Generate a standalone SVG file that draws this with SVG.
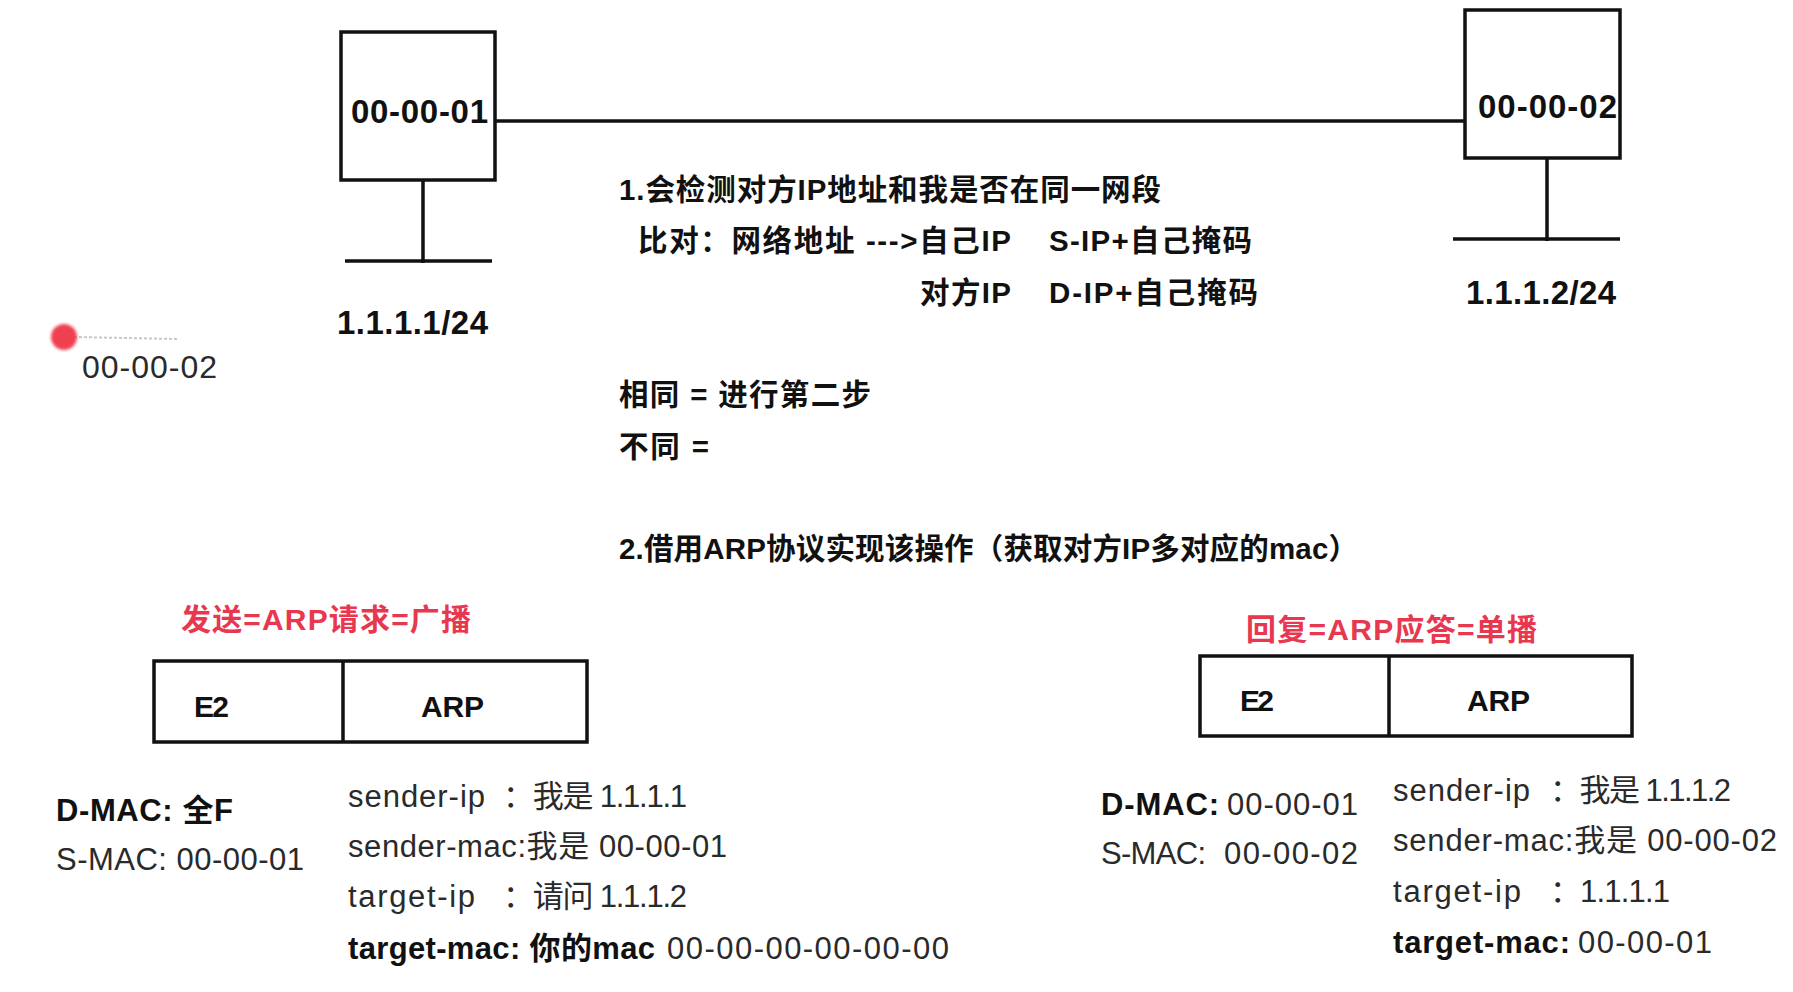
<svg xmlns="http://www.w3.org/2000/svg" width="1793" height="992" viewBox="0 0 1793 992">
<defs>
<style>
text{font-family:"Liberation Sans","Noto Sans CJK SC",sans-serif;}
.b{font-weight:bold;fill:#111;}
.r{font-weight:normal;fill:#2a2a2a;}
.red{font-weight:bold;fill:#e8384f;}
.ln{stroke:#111;stroke-width:3.5;fill:none;}
.box{stroke:#111;stroke-width:3.5;fill:#fff;}
.t{font-size:33px;}
.n{font-size:29.5px;}
.s{font-size:31px;}
</style>
<filter id="blur" x="-50%" y="-50%" width="200%" height="200%"><feGaussianBlur stdDeviation="1.5"/></filter>
</defs>
<rect x="0" y="0" width="1793" height="992" fill="#fff"/>

<g id="connectors">
<line class="ln" x1="495" y1="121" x2="1465" y2="121"/>
<line class="ln" x1="423" y1="180" x2="423" y2="263"/>
<line class="ln" x1="345" y1="261" x2="492" y2="261"/>
<line class="ln" x1="1547" y1="158" x2="1547" y2="241"/>
<line class="ln" x1="1453" y1="239" x2="1620" y2="239"/>
</g>

<g id="host1">
<rect class="box" x="341" y="32" width="154" height="148"/>
<text class="b t" x="351" y="123" textLength="137">00-00-01</text>
<text class="b t" x="337" y="334" textLength="151">1.1.1.1/24</text>
</g>

<g id="host2">
<rect class="box" x="1465" y="10" width="155" height="148"/>
<text class="b t" x="1478" y="118" textLength="139">00-00-02</text>
<text class="b t" x="1466" y="304" textLength="150">1.1.1.2/24</text>
</g>

<g id="pointer">
<line x1="74" y1="337" x2="178" y2="339" stroke="#c8c8c8" stroke-width="2" stroke-dasharray="3 2"/>
<circle cx="64" cy="337" r="13" fill="#f0404f" filter="url(#blur)"/>
<text class="r" x="82" y="378" font-size="32" textLength="135">00-00-02</text>
</g>

<g id="notes">
<text class="b n" x="619" y="200" textLength="542">1.会检测对方IP地址和我是否在同一网段</text>
<text class="b n" x="638" y="251" textLength="373">比对：网络地址 ---&gt;自己IP</text>
<text class="b n" x="1049" y="251" textLength="203">S-IP+自己掩码</text>
<text class="b n" x="920" y="303" textLength="91">对方IP</text>
<text class="b n" x="1049" y="303" textLength="209">D-IP+自己掩码</text>
<text class="b n" x="619" y="405" textLength="252">相同 = 进行第二步</text>
<text class="b n" x="619" y="457" textLength="90">不同 =</text>
<text class="b n" x="619" y="559" textLength="739">2.借用ARP协议实现该操作（获取对方IP多对应的mac）</text>
</g>

<g id="request">
<text class="red" x="181" y="630" font-size="30" textLength="290">发送=ARP请求=广播</text>
<rect class="box" x="154" y="661" width="433" height="81"/>
<line class="ln" x1="343" y1="661" x2="343" y2="742"/>
<text class="b" x="194" y="717" font-size="30" textLength="35">E2</text>
<text class="b" x="421" y="717" font-size="30" textLength="63">ARP</text>
<text class="b s" x="56" y="821" textLength="177">D-MAC: 全F</text>
<text class="r s" x="56" y="870" textLength="248">S-MAC: 00-00-01</text>
<text class="r s" x="348" y="807" textLength="137">sender-ip</text>
<text class="r s" x="503" y="807" textLength="184">：我是 1.1.1.1</text>
<text class="r s" x="348" y="857" textLength="379">sender-mac:我是 00-00-01</text>
<text class="r s" x="348" y="907" textLength="127">target-ip</text>
<text class="r s" x="503" y="907" textLength="184">：请问 1.1.1.2</text>
<text class="b s" x="348" y="959" textLength="307">target-mac: 你的mac</text>
<text class="r s" x="667" y="959" textLength="282">00-00-00-00-00-00</text>
</g>

<g id="reply">
<text class="red" x="1246" y="640" font-size="30" textLength="291">回复=ARP应答=单播</text>
<rect class="box" x="1200" y="656" width="432" height="80"/>
<line class="ln" x1="1389" y1="656" x2="1389" y2="736"/>
<text class="b" x="1240" y="711" font-size="30" textLength="34">E2</text>
<text class="b" x="1467" y="711" font-size="30" textLength="63">ARP</text>
<text class="b s" x="1101" y="815" textLength="118">D-MAC:</text>
<text class="r s" x="1227" y="815" textLength="131">00-00-01</text>
<text class="r s" x="1101" y="864" textLength="105">S-MAC:</text>
<text class="r s" x="1224" y="864" textLength="134">00-00-02</text>
<text class="r s" x="1393" y="801" textLength="137">sender-ip</text>
<text class="r s" x="1550" y="801" textLength="181">：我是 1.1.1.2</text>
<text class="r s" x="1393" y="851" textLength="384">sender-mac:我是 00-00-02</text>
<text class="r s" x="1393" y="902" textLength="128">target-ip</text>
<text class="r s" x="1550" y="902">：</text>
<text class="r s" x="1580" y="902" textLength="90">1.1.1.1</text>
<text class="b s" x="1393" y="953" textLength="177">target-mac:</text>
<text class="r s" x="1578" y="953" textLength="134">00-00-01</text>
</g>
</svg>
